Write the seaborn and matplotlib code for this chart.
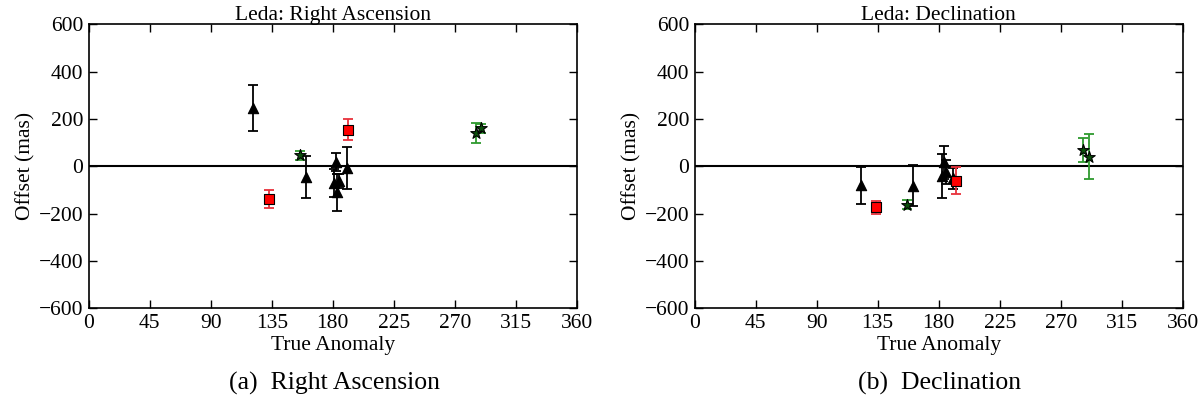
import matplotlib
matplotlib.use("Agg")
import matplotlib.pyplot as plt
import numpy as np
import pandas as pd
import seaborn as sns

# Right ascension offsets (mas) vs true anomaly (deg)
TRI_RA_X = [121.4, 160.2, 182.4, 181.1, 184.6, 183.3, 190.2]
TRI_RA_Y = [245, -47, 17, -72, -64, -110, -7]
TRI_RA_ERR = [98, 89, 38, 60, 30, 78, 90]
SQ_RA_X = [132.9, 191.4]
SQ_RA_Y = [-139, 155]
SQ_RA_ERR = [39, 46]
STAR_RA_X = [155.8, 285.6, 289.1]
STAR_RA_Y = [46, 140, 160]
STAR_RA_ERR = [19, 42, 20]

# Declination offsets (mas) vs true anomaly (deg)
TRI_DEC_X = [122.6, 161.0, 182.3, 184.2, 185.4, 190.7]
TRI_DEC_Y = [-80, -82, -42, 17, -25, -51]
TRI_DEC_ERR = [78, 86, 92, 70, 50, 45]
SQ_DEC_X = [133.9, 192.6]
SQ_DEC_Y = [-174, -62]
SQ_DEC_ERR = [26, 57]
STAR_DEC_X = [156.8, 286.4, 290.8]
STAR_DEC_Y = [-162, 70, 40]
STAR_DEC_ERR = [18, 50, 96]

X_TICKS = [0, 45, 90, 135, 180, 225, 270, 315, 360]
Y_TICKS = [-600, -400, -200, 0, 200, 400, 600]

MARKERS = {"tri": "^", "sq": "s", "star": "*"}
FACE = {"tri": "black", "sq": "red", "star": "#0a4f0a"}
ECOLOR = {"tri": "black", "sq": "#e8323c", "star": "#2e9a2e"}
SIZES = {"tri": 55, "sq": 55, "star": 75}


def make_frame(groups):
    rows = []
    for kind, xs, ys, errs in groups:
        for x, y, e in zip(xs, ys, errs):
            rows.append({"kind": kind, "anomaly": x, "offset": y, "err": e})
    return pd.DataFrame(rows)


ra_df = make_frame([
    ("tri", TRI_RA_X, TRI_RA_Y, TRI_RA_ERR),
    ("sq", SQ_RA_X, SQ_RA_Y, SQ_RA_ERR),
    ("star", STAR_RA_X, STAR_RA_Y, STAR_RA_ERR),
])
dec_df = make_frame([
    ("tri", TRI_DEC_X, TRI_DEC_Y, TRI_DEC_ERR),
    ("sq", SQ_DEC_X, SQ_DEC_Y, SQ_DEC_ERR),
    ("star", STAR_DEC_X, STAR_DEC_Y, STAR_DEC_ERR),
])

sns.set_style("ticks")
plt.rcParams["font.family"] = ["Liberation Serif", "DejaVu Serif"]
plt.rcParams["mathtext.fontset"] = "stix"
for key in ["text.color", "axes.labelcolor", "xtick.color", "ytick.color", "axes.edgecolor"]:
    plt.rcParams[key] = "black"


def draw_panel(ax, df, title):
    ax.axhline(0, color="black", lw=1.5, zorder=1)
    for kind in ["tri", "sq", "star"]:
        sub = df[df["kind"] == kind]
        ax.errorbar(sub["anomaly"], sub["offset"], yerr=sub["err"], fmt="none",
                    ecolor=ECOLOR[kind], elinewidth=1.3, capsize=3.5, capthick=1.3, zorder=2)
        sns.scatterplot(data=sub, x="anomaly", y="offset", ax=ax, marker=MARKERS[kind],
                        color=FACE[kind], edgecolor="black", linewidth=0.8,
                        s=SIZES[kind], legend=False, zorder=3)
    ax.set_xlim(0, 360)
    ax.set_ylim(-600, 600)
    ax.set_xticks(X_TICKS)
    ax.set_yticks(Y_TICKS)
    ax.tick_params(direction="in", top=True, right=True, length=6, width=1,
                   labelsize=15.5, pad=4, colors="black")
    for sp in ax.spines.values():
        sp.set_linewidth(1.2)
        sp.set_color("black")
    ax.set_xlabel("True Anomaly", fontsize=15.5, labelpad=2, color="black")
    ax.set_ylabel("Offset (mas)", fontsize=15.5, labelpad=2, color="black")
    ax.set_title(title, fontsize=15.5, pad=3, color="black")


fig = plt.figure(figsize=(12, 4.04), dpi=100)
ax1 = fig.add_axes([0.074, 0.237, 0.4066, 0.703])
ax2 = fig.add_axes([0.5788, 0.237, 0.4070, 0.703])

draw_panel(ax1, ra_df, "Leda: Right Ascension")
draw_panel(ax2, dec_df, "Leda: Declination")

fig.text(0.279, 0.052, "(a)  Right Ascension", ha="center", va="center", fontsize=18.5, color="black")
fig.text(0.783, 0.052, "(b)  Declination", ha="center", va="center", fontsize=18.5, color="black")

fig.savefig("out.png", dpi=100)
